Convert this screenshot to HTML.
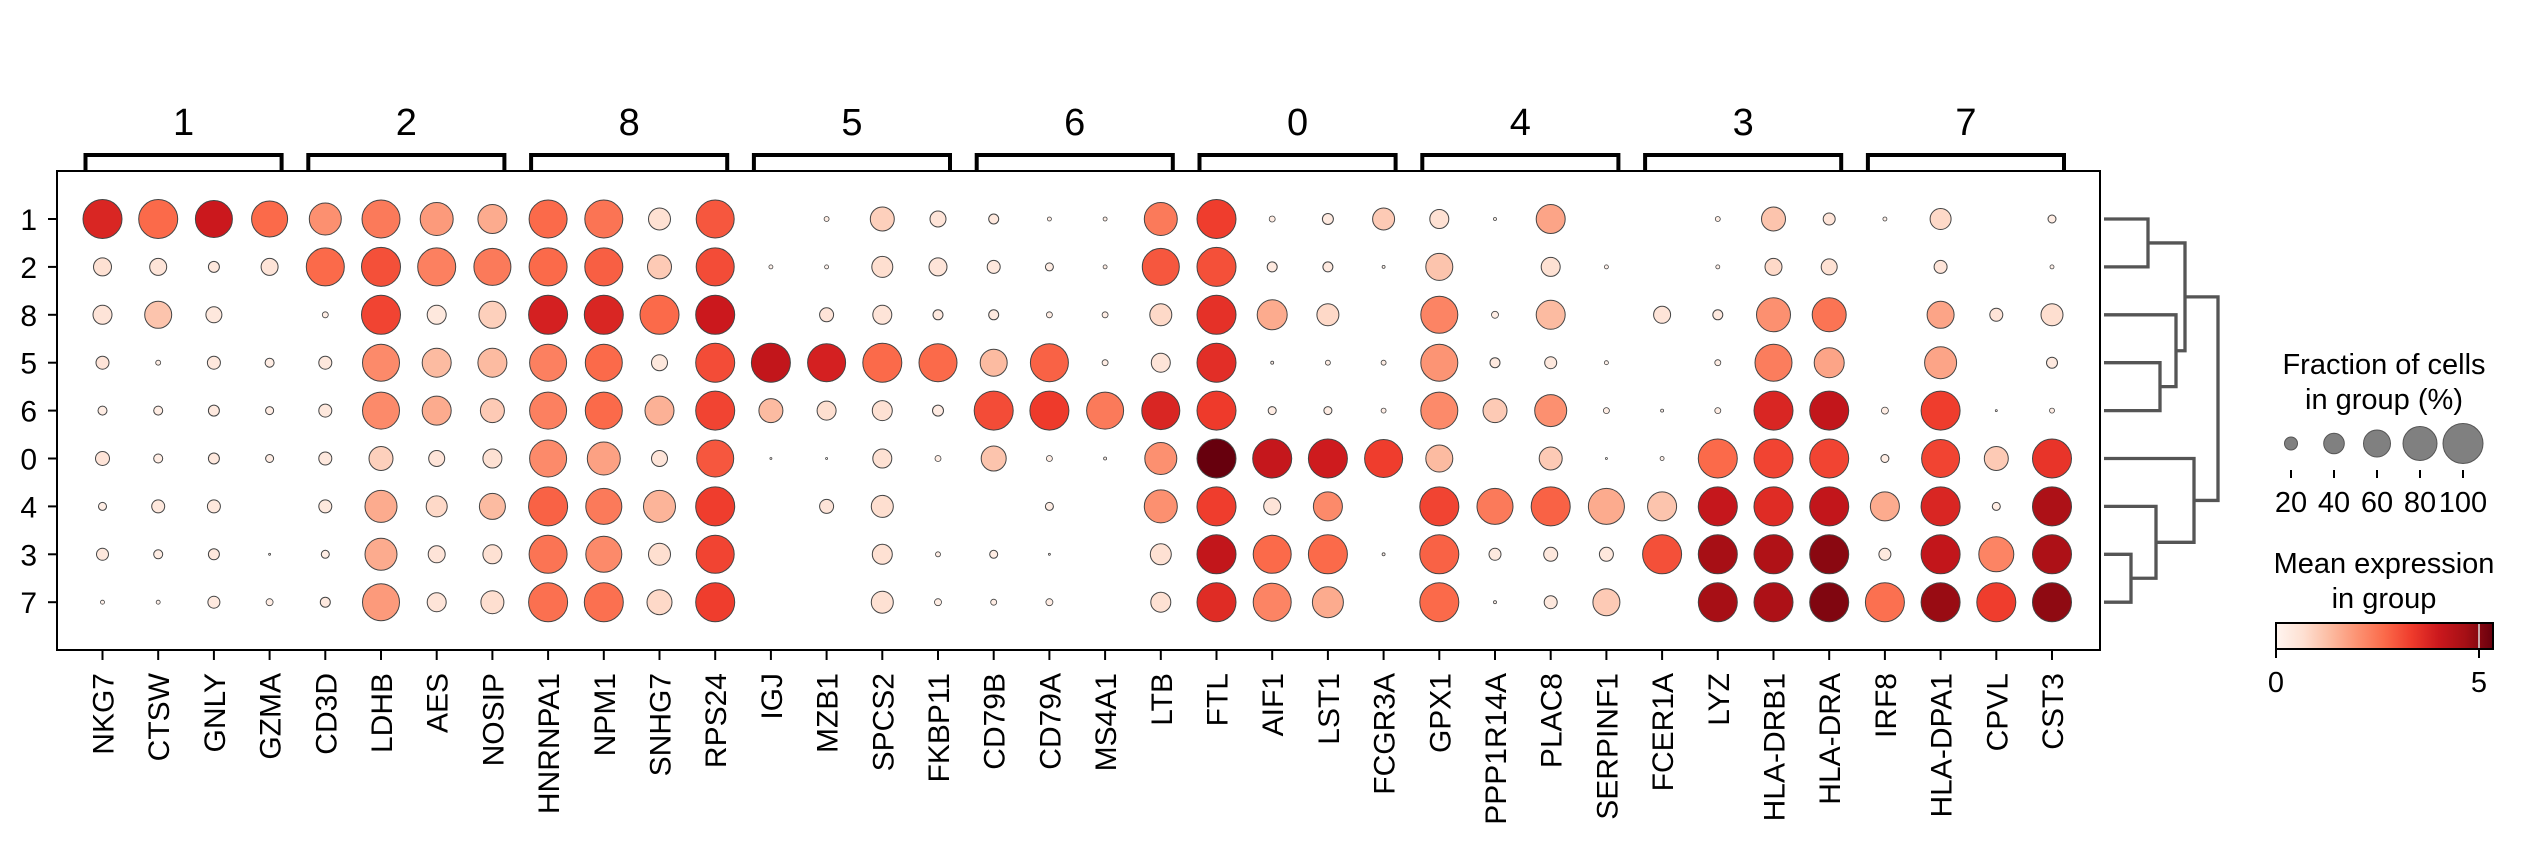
<!DOCTYPE html>
<html><head><meta charset="utf-8"><style>
html,body{margin:0;padding:0;background:#fff;width:2528px;height:853px;overflow:hidden}
svg text{font-family:"Liberation Sans",Arial,sans-serif;fill:#000}
</style></head><body>
<svg id="s" width="2528" height="853" xmlns="http://www.w3.org/2000/svg">
<defs><linearGradient id="cb" x1="0" x2="1" y1="0" y2="0">
<stop offset="0" stop-color="#fff5f0"/><stop offset="0.125" stop-color="#fee0d2"/><stop offset="0.25" stop-color="#fcbba1"/><stop offset="0.375" stop-color="#fc9272"/><stop offset="0.5" stop-color="#fb6a4a"/><stop offset="0.625" stop-color="#ef3b2c"/><stop offset="0.75" stop-color="#cb181d"/><stop offset="0.875" stop-color="#a50f15"/><stop offset="1" stop-color="#67000d"/>
</linearGradient></defs>
<g id="g"></g>
</svg>
<script>
var genes=["NKG7","CTSW","GNLY","GZMA","CD3D","LDHB","AES","NOSIP","HNRNPA1","NPM1","SNHG7","RPS24","IGJ","MZB1","SPCS2","FKBP11","CD79B","CD79A","MS4A1","LTB","FTL","AIF1","LST1","FCGR3A","GPX1","PPP1R14A","PLAC8","SERPINF1","FCER1A","LYZ","HLA-DRB1","HLA-DRA","IRF8","HLA-DPA1","CPVL","CST3"];
var rows=["1","2","8","5","6","0","4","3","7"];
var groups=["1","2","8","5","6","0","4","3","7"];
var D=[
[[39,.7],[39,.5],[37,.75],[36,.5],[32,.38],[38,.45],[33,.35],[29,.3],[38,.5],[38,.47],[22,.12],[38,.55],[0,0],[5,.05],[24,.18],[16,.1],[10,.08],[4,.05],[4,.05],[33,.45],[39,.62],[6,.05],[11,.07],[22,.2],[19,.12],[3,.02],[29,.32],[0,0],[0,0],[5,.05],[24,.22],[12,.1],[4,.03],[21,.15],[0,0],[8,.05]],
[[18,.12],[17,.1],[11,.08],[17,.1],[38,.5],[39,.57],[38,.43],[37,.45],[38,.5],[38,.53],[24,.2],[38,.58],[4,.02],[4,.02],[21,.13],[18,.1],[13,.08],[8,.05],[4,.05],[37,.55],[39,.57],[10,.07],[10,.07],[3,.02],[27,.22],[0,0],[19,.12],[4,.03],[0,0],[4,.03],[17,.15],[16,.12],[0,0],[13,.1],[0,0],[4,.03]],
[[19,.1],[27,.22],[16,.08],[0,0],[6,.05],[39,.6],[19,.08],[27,.18],[39,.72],[39,.7],[39,.5],[39,.75],[0,0],[14,.1],[19,.1],[10,.07],[10,.07],[6,.05],[6,.05],[22,.15],[39,.66],[30,.3],[22,.15],[0,0],[37,.42],[7,.05],[29,.25],[0,0],[17,.1],[10,.07],[34,.38],[34,.47],[0,0],[27,.32],[13,.1],[22,.13]],
[[13,.1],[5,.05],[13,.08],[9,.05],[13,.08],[37,.4],[29,.25],[29,.25],[37,.43],[37,.5],[16,.08],[39,.58],[39,.78],[38,.72],[39,.5],[38,.5],[27,.25],[38,.52],[6,.05],[19,.1],[39,.67],[3,.03],[5,.05],[5,.05],[37,.37],[10,.07],[12,.08],[4,.03],[0,0],[6,.05],[37,.44],[30,.32],[0,0],[32,.32],[0,0],[11,.07]],
[[9,.05],[9,.05],[11,.07],[8,.05],[13,.08],[37,.4],[29,.3],[24,.2],[37,.43],[37,.5],[29,.28],[39,.6],[24,.25],[19,.13],[20,.12],[11,.06],[39,.58],[39,.63],[37,.45],[38,.7],[39,.63],[8,.05],[8,.05],[5,.04],[37,.4],[24,.2],[32,.38],[6,.05],[3,.02],[6,.05],[39,.7],[39,.78],[7,.05],[39,.62],[2,.03],[5,.05]],
[[14,.1],[9,.05],[11,.08],[8,.05],[13,.08],[24,.18],[16,.1],[19,.12],[37,.4],[33,.33],[16,.1],[37,.55],[2,.02],[2,0],[19,.12],[6,.05],[25,.22],[6,.05],[3,.03],[32,.38],[39,1],[39,.77],[39,.74],[38,.62],[27,.25],[0,0],[23,.2],[2,.02],[4,.03],[39,.5],[39,.6],[39,.6],[8,.05],[38,.6],[24,.2],[39,.65]],
[[8,.05],[13,.08],[13,.08],[0,0],[13,.08],[32,.3],[21,.15],[26,.25],[39,.52],[36,.45],[32,.27],[39,.62],[0,0],[14,.1],[22,.13],[0,0],[0,0],[8,.05],[0,0],[33,.38],[39,.62],[17,.1],[29,.4],[0,0],[39,.6],[36,.45],[39,.52],[36,.3],[29,.22],[39,.77],[39,.68],[39,.78],[29,.3],[39,.7],[8,.05],[39,.85]],
[[12,.08],[9,.05],[11,.08],[2,.02],[8,.05],[32,.3],[17,.1],[19,.12],[38,.47],[36,.4],[22,.13],[38,.6],[0,0],[0,0],[20,.12],[5,.05],[8,.05],[2,.03],[0,0],[21,.12],[39,.78],[38,.5],[39,.5],[3,.03],[39,.52],[12,.07],[14,.08],[14,.08],[39,.57],[39,.87],[39,.84],[39,.93],[12,.07],[39,.78],[35,.42],[39,.85]],
[[4,.03],[4,.03],[12,.07],[7,.05],[10,.07],[37,.35],[19,.1],[23,.13],[39,.48],[39,.48],[25,.15],[39,.62],[0,0],[0,0],[22,.12],[7,.05],[6,.05],[7,.05],[0,0],[20,.12],[39,.68],[38,.42],[31,.3],[0,0],[39,.5],[3,.03],[13,.08],[27,.2],[0,0],[39,.87],[39,.85],[39,.95],[39,.48],[39,.9],[39,.62],[39,.92]]
];
var stops=[[255,245,240],[254,224,210],[252,187,161],[252,146,114],[251,106,74],[239,59,44],[203,24,29],[165,15,21],[103,0,13]];
function cmap(t){t=Math.max(0,Math.min(1,t))*8;var i=Math.min(7,Math.floor(t)),f=t-i,a=stops[i],b=stops[i+1];
return "rgb("+a.map(function(v,k){return Math.round(v+(b[k]-v)*f)}).join(",")+")";}
var X=function(i){return 102.5+55.7*i}, Y=function(r){return 219+47.9*r};
var h="";
h+='<rect x="57" y="171" width="2043" height="479" fill="none" stroke="#000" stroke-width="2"/>';
for(var r=0;r<9;r++){
 h+='<line x1="48" x2="57" y1="'+Y(r)+'" y2="'+Y(r)+'" stroke="#000" stroke-width="2"/>';
 h+='<text x="37" y="'+(Y(r)+11)+'" font-size="30" text-anchor="end">'+rows[r]+'</text>';
 for(var c=0;c<36;c++){var d=D[r][c];if(d[0]>0){
  h+='<circle cx="'+X(c)+'" cy="'+Y(r)+'" r="'+(d[0]/2)+'" fill="'+cmap(d[1])+'" stroke="#444" stroke-width="'+(d[0]<8?0.8:1)+'"/>';}}
}
for(var c=0;c<36;c++){
 h+='<line x1="'+X(c)+'" x2="'+X(c)+'" y1="650" y2="660" stroke="#000" stroke-width="2"/>';
 h+='<text transform="translate('+(X(c)+11)+',673) rotate(-90)" font-size="30" text-anchor="end">'+genes[c]+'</text>';
}
for(var g=0;g<9;g++){
 var l=X(4*g)-17, rr=X(4*g+3)+12;
 h+='<path d="M'+l+' 171 V155 H'+rr+' V171" fill="none" stroke="#000" stroke-width="4"/>';
 h+='<text x="'+((l+rr)/2)+'" y="135" font-size="38" text-anchor="middle">'+groups[g]+'</text>';
}
var y=[];for(var r=0;r<9;r++)y.push(Y(r));
function U(x1a,ya,x1b,yb,xm){return '<path d="M'+x1a+' '+ya+' H'+xm+' V'+yb+' H'+x1b+'" fill="none" stroke="#555" stroke-width="3.3"/>';}
var L=2104;
var m12=(y[0]+y[1])/2,m56=(y[3]+y[4])/2,m856=(y[2]+m56)/2,A=(m12+m856)/2;
var m37=(y[7]+y[8])/2,m437=(y[6]+m37)/2,B=(y[5]+m437)/2;
h+=U(L,y[0],L,y[1],2148);
h+=U(L,y[3],L,y[4],2160);
h+=U(L,y[2],2160,m56,2176);
h+=U(2148,m12,2176,m856,2185);
h+=U(L,y[7],L,y[8],2131);
h+=U(L,y[6],2131,m37,2156);
h+=U(L,y[5],2156,m437,2194);
h+=U(2185,A,2194,B,2218);
h+='<text x="2384" y="374" font-size="29" text-anchor="middle">Fraction of cells</text>';
h+='<text x="2384" y="409" font-size="29" text-anchor="middle">in group (%)</text>';
var lx=[2291,2334,2377,2420,2463],ld=[13,20.6,27,34,40],lt=["20","40","60","80","100"];
for(var i=0;i<5;i++){
 h+='<circle cx="'+lx[i]+'" cy="443.5" r="'+ld[i]/2+'" fill="#808080" stroke="#555" stroke-width="1"/>';
 h+='<line x1="'+lx[i]+'" x2="'+lx[i]+'" y1="470" y2="478" stroke="#000" stroke-width="2"/>';
 h+='<text x="'+lx[i]+'" y="512" font-size="29" text-anchor="middle">'+lt[i]+'</text>';
}
h+='<text x="2384" y="573" font-size="29" text-anchor="middle">Mean expression</text>';
h+='<text x="2384" y="608" font-size="29" text-anchor="middle">in group</text>';
h+='<rect x="2276" y="623" width="217" height="26" fill="url(#cb)" stroke="#000" stroke-width="2"/>';
h+='<line x1="2479" x2="2479" y1="624" y2="648" stroke="#ddd" stroke-width="1.5"/>';
h+='<line x1="2276" x2="2276" y1="649" y2="658" stroke="#000" stroke-width="2"/>';
h+='<line x1="2479" x2="2479" y1="649" y2="658" stroke="#000" stroke-width="2"/>';
h+='<text x="2276" y="692" font-size="29" text-anchor="middle">0</text>';
h+='<text x="2479" y="692" font-size="29" text-anchor="middle">5</text>';
document.getElementById("g").innerHTML=h;
</script>
</body></html>
